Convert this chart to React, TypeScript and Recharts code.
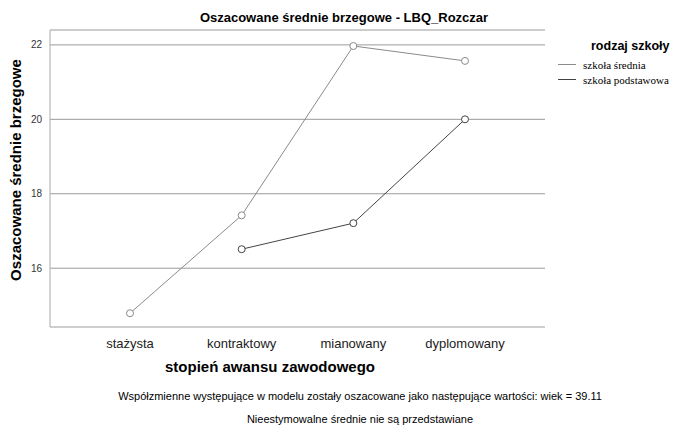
import { LineChart, Line, XAxis, YAxis, CartesianGrid } from 'recharts'

const categories = ['stażysta', 'kontraktowy', 'mianowany', 'dyplomowany']
const szkolaSrednia = [14.79, 17.42, 21.97, 21.57]
const szkolaPodstawowa: (number | null)[] = [null, 16.51, 17.21, 20.0]
const yTicks = [16, 18, 20, 22]

const data = categories.map((c, i) => ({
  stopien: c,
  srednia: szkolaSrednia[i],
  podstawowa: szkolaPodstawowa[i],
}))

const sans = '"Liberation Sans", Arial, sans-serif'
const serif = '"Liberation Serif", "Times New Roman", serif'
const lightLine = '#8a8a8a'
const darkLine = '#444444'

export default function App() {
  return (
    <div style={{ position: 'absolute', left: 0, top: 0, width: 676, height: 426, background: '#fff', fontFamily: sans }}>
      <LineChart width={676} height={426} data={data} margin={{ top: 30, right: 131, left: 0, bottom: 69 }}>
        <CartesianGrid horizontal vertical={false} stroke="#9a9a9a" strokeWidth={1} />
        <XAxis
          dataKey="stopien"
          padding={{ left: 80, right: 80 }}
          tickLine={false}
          axisLine={{ stroke: '#cfcfcf' }}
          tick={{ fontSize: 13, fill: '#222', fontFamily: sans }}
          tickMargin={6}
        />
        <YAxis
          domain={[14.42, 22.4]}
          ticks={yTicks}
          width={50}
          tickLine={false}
          axisLine={{ stroke: '#aaaaaa' }}
          tick={{ fontSize: 10, fill: '#333', fontFamily: sans }}
          allowDataOverflow
        />
        <Line
          dataKey="srednia"
          stroke={lightLine}
          strokeWidth={1}
          dot={{ r: 3.5, fill: '#fff', stroke: lightLine, strokeWidth: 1 }}
          isAnimationActive={false}
        />
        <Line
          dataKey="podstawowa"
          stroke={darkLine}
          strokeWidth={1}
          connectNulls={false}
          dot={{ r: 3.5, fill: '#fff', stroke: darkLine, strokeWidth: 1 }}
          isAnimationActive={false}
        />
      </LineChart>
      <div style={{ position: 'absolute', left: 0, width: 688, top: 10, textAlign: 'center', fontWeight: 'bold', fontSize: 13 }}>
        Oszacowane średnie brzegowe - LBQ_Rozczar
      </div>
      <div
        style={{
          position: 'absolute',
          left: 15,
          top: 170,
          transform: 'translate(-50%, -50%) rotate(-90deg)',
          whiteSpace: 'nowrap',
          fontWeight: 'bold',
          fontSize: 15,
        }}
      >
        Oszacowane średnie brzegowe
      </div>
      <div style={{ position: 'absolute', left: 0, width: 540, top: 358, textAlign: 'center', fontWeight: 'bold', fontSize: 15 }}>
        stopień awansu zawodowego
      </div>
      <div style={{ position: 'absolute', left: 591, top: 39, fontWeight: 'bold', fontSize: 12.5, whiteSpace: 'nowrap' }}>rodzaj szkoły</div>
      <div style={{ position: 'absolute', left: 558, top: 57, fontFamily: serif, fontSize: 11, whiteSpace: 'nowrap' }}>
        <div style={{ display: 'flex', alignItems: 'center', height: 15 }}>
          <span style={{ display: 'inline-block', width: 18, height: 0, borderTop: `1px solid ${lightLine}`, marginRight: 7 }} />
          szkoła średnia
        </div>
        <div style={{ display: 'flex', alignItems: 'center', height: 15 }}>
          <span style={{ display: 'inline-block', width: 18, height: 0, borderTop: `1px solid ${darkLine}`, marginRight: 7 }} />
          szkoła podstawowa
        </div>
      </div>
      <div style={{ position: 'absolute', left: 0, width: 720, top: 390, textAlign: 'center', fontSize: 11 }}>
        Współzmienne występujące w modelu zostały oszacowane jako następujące wartości: wiek = 39.11
      </div>
      <div style={{ position: 'absolute', left: 0, width: 720, top: 413, textAlign: 'center', fontSize: 11 }}>
        Nieestymowalne średnie nie są przedstawiane
      </div>
    </div>
  )
}
